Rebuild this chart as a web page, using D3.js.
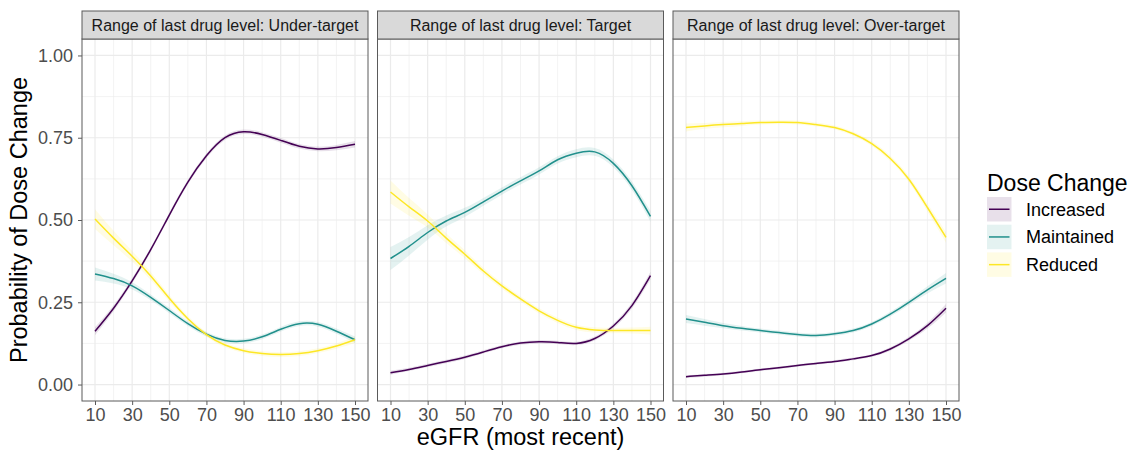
<!DOCTYPE html>
<html>
<head>
<meta charset="utf-8">
<script src="https://cdn.jsdelivr.net/npm/d3@7"></script>
<style>
  body { margin: 0; background: #fff; }
  svg { font-family: "Liberation Sans", Arial, sans-serif; }
</style>
</head>
<body>
<svg id="chart"></svg>
<script>
// Predicted probability of dose change by eGFR, faceted by last drug level

const eGFR = [10, 20, 30, 40, 50, 60, 70, 80, 90, 100, 110, 120, 130, 140, 150];
const xTicks = [10, 30, 50, 70, 90, 110, 130, 150];
const yTicks = [0, 0.25, 0.5, 0.75, 1];

const panelLabels = ["Under-target", "Target", "Over-target"];
const doseChanges = ["Increased", "Maintained", "Reduced"];
const doseColors = ["#440154", "#21908C", "#FDE725"];

// fitted probabilities, one array per panel and series
const underIncreased  = [0.162, 0.232, 0.315, 0.41, 0.515, 0.615, 0.695, 0.75, 0.768, 0.76, 0.742, 0.724, 0.716, 0.72, 0.73];
const underMaintained = [0.336, 0.322, 0.3, 0.265, 0.225, 0.185, 0.153, 0.134, 0.132, 0.145, 0.168, 0.185, 0.183, 0.162, 0.136];
const underReduced    = [0.503, 0.445, 0.39, 0.33, 0.262, 0.2, 0.152, 0.12, 0.103, 0.094, 0.091, 0.094, 0.103, 0.117, 0.136];

const targetIncreased  = [0.036, 0.046, 0.058, 0.07, 0.083, 0.099, 0.115, 0.126, 0.13, 0.128, 0.125, 0.14, 0.178, 0.24, 0.331];
const targetMaintained = [0.383, 0.42, 0.462, 0.497, 0.523, 0.555, 0.588, 0.619, 0.649, 0.683, 0.703, 0.707, 0.672, 0.604, 0.511];
const targetReduced    = [0.585, 0.54, 0.497, 0.445, 0.396, 0.345, 0.3, 0.26, 0.224, 0.195, 0.174, 0.166, 0.164, 0.164, 0.164];

const overIncreased  = [0.024, 0.028, 0.032, 0.038, 0.045, 0.051, 0.058, 0.064, 0.07, 0.078, 0.088, 0.108, 0.139, 0.179, 0.232];
const overMaintained = [0.199, 0.189, 0.179, 0.171, 0.164, 0.158, 0.152, 0.149, 0.154, 0.164, 0.184, 0.214, 0.25, 0.288, 0.323];
const overReduced    = [0.781, 0.786, 0.79, 0.793, 0.796, 0.797, 0.796, 0.79, 0.781, 0.762, 0.732, 0.687, 0.624, 0.538, 0.447];

// half-width of the confidence band
const underIncreasedSE  = [0.012, 0.009, 0.008, 0.007, 0.007, 0.007, 0.007, 0.007, 0.007, 0.007, 0.007, 0.007, 0.007, 0.008, 0.01];
const underMaintainedSE = [0.02, 0.015, 0.011, 0.009, 0.008, 0.007, 0.007, 0.007, 0.007, 0.007, 0.007, 0.007, 0.007, 0.008, 0.01];
const underReducedSE    = [0.03, 0.022, 0.016, 0.012, 0.01, 0.008, 0.007, 0.007, 0.007, 0.007, 0.007, 0.007, 0.007, 0.008, 0.01];
const targetIncreasedSE  = [0.006, 0.005, 0.005, 0.005, 0.005, 0.005, 0.005, 0.005, 0.005, 0.005, 0.005, 0.006, 0.007, 0.009, 0.012];
const targetMaintainedSE = [0.035, 0.028, 0.022, 0.017, 0.014, 0.012, 0.011, 0.011, 0.011, 0.011, 0.012, 0.012, 0.012, 0.013, 0.016];
const targetReducedSE    = [0.035, 0.027, 0.02, 0.015, 0.012, 0.01, 0.009, 0.008, 0.008, 0.008, 0.008, 0.008, 0.008, 0.009, 0.012];
const overIncreasedSE  = [0.004, 0.004, 0.004, 0.004, 0.004, 0.004, 0.004, 0.004, 0.004, 0.004, 0.004, 0.005, 0.006, 0.009, 0.013];
const overMaintainedSE = [0.012, 0.01, 0.008, 0.007, 0.006, 0.006, 0.006, 0.006, 0.006, 0.006, 0.006, 0.007, 0.008, 0.011, 0.016];
const overReducedSE    = [0.012, 0.009, 0.008, 0.007, 0.006, 0.006, 0.006, 0.006, 0.006, 0.006, 0.007, 0.008, 0.009, 0.012, 0.016];

const panelSeries = [
    [underIncreased, underMaintained, underReduced],
    [targetIncreased, targetMaintained, targetReduced],
    [overIncreased, overMaintained, overReduced]
];
const panelBands = [
    [underIncreasedSE, underMaintainedSE, underReducedSE],
    [targetIncreasedSE, targetMaintainedSE, targetReducedSE],
    [overIncreasedSE, overMaintainedSE, overReducedSE]
];

const svgWidth = 1132;
const svgHeight = 450;

const svg = d3.select("#chart")
    .attr("width", svgWidth)
    .attr("height", svgHeight);

const stripTop = 11;
const panelTop = 39;
const panelBottom = 401;
const panelLefts = [82, 377.5, 673];
const panelWidth = 286;

const yScale = d3.scaleLinear().domain([-0.05, 1.05]).range([panelBottom, panelTop]);
const yMinor = [0.125, 0.375, 0.625, 0.875];
const xMinor = [20, 40, 60, 80, 100, 120, 140];

const borderColor = "#5a5a5a";
const gridColor = "#EBEBEB";

panelLabels.forEach((label, p) => {
    const left = panelLefts[p];
    const xScale = d3.scaleLinear().domain([3, 157]).range([left, left + panelWidth]);
    const g = svg.append("g");

    // grid
    g.selectAll(".ymin").data(yMinor).join("line")
        .attr("x1", left).attr("x2", left + panelWidth)
        .attr("y1", d => yScale(d)).attr("y2", d => yScale(d))
        .attr("stroke", gridColor).attr("stroke-width", 0.6);
    g.selectAll(".xmin").data(xMinor).join("line")
        .attr("y1", panelTop).attr("y2", panelBottom)
        .attr("x1", d => xScale(d)).attr("x2", d => xScale(d))
        .attr("stroke", gridColor).attr("stroke-width", 0.6);
    g.selectAll(".ymaj").data(yTicks).join("line")
        .attr("x1", left).attr("x2", left + panelWidth)
        .attr("y1", d => yScale(d)).attr("y2", d => yScale(d))
        .attr("stroke", gridColor).attr("stroke-width", 1.2);
    g.selectAll(".xmaj").data(xTicks).join("line")
        .attr("y1", panelTop).attr("y2", panelBottom)
        .attr("x1", d => xScale(d)).attr("x2", d => xScale(d))
        .attr("stroke", gridColor).attr("stroke-width", 1.2);

    // ribbons then lines
    const area = d3.area()
        .x((d, i) => xScale(eGFR[i]))
        .y0(d => yScale(d[0] - d[1]))
        .y1(d => yScale(d[0] + d[1]))
        .curve(d3.curveNatural);
    const line = d3.line()
        .x((d, i) => xScale(eGFR[i]))
        .y(d => yScale(d))
        .curve(d3.curveNatural);

    panelSeries[p].forEach((values, s) => {
        const band = values.map((v, i) => [v, panelBands[p][s][i]]);
        g.append("path")
            .datum(band)
            .attr("fill", doseColors[s])
            .attr("fill-opacity", 0.12)
            .attr("d", area);
    });
    panelSeries[p].forEach((values, s) => {
        g.append("path")
            .datum(values)
            .attr("fill", "none")
            .attr("stroke", doseColors[s])
            .attr("stroke-width", 1.5)
            .attr("d", line);
    });

    // border
    g.append("rect")
        .attr("x", left).attr("y", panelTop)
        .attr("width", panelWidth).attr("height", panelBottom - panelTop)
        .attr("fill", "none").attr("stroke", borderColor).attr("stroke-width", 1);

    // strip
    g.append("rect")
        .attr("x", left).attr("y", stripTop)
        .attr("width", panelWidth).attr("height", panelTop - stripTop)
        .attr("fill", "#D9D9D9").attr("stroke", borderColor).attr("stroke-width", 1);
    g.append("text")
        .attr("x", left + panelWidth / 2)
        .attr("y", (stripTop + panelTop) / 2)
        .attr("dy", "0.36em")
        .attr("text-anchor", "middle")
        .attr("font-size", "16px")
        .attr("fill", "#1A1A1A")
        .text("Range of last drug level: " + label);

    // x axis
    const xAxis = g.append("g")
        .attr("transform", `translate(0, ${panelBottom})`)
        .call(d3.axisBottom(xScale).tickValues(xTicks).tickSize(4).tickPadding(3));
    xAxis.select(".domain").remove();
    xAxis.selectAll(".tick line").attr("stroke", borderColor);
    xAxis.selectAll(".tick text")
        .attr("font-size", "18px")
        .attr("font-family", "Liberation Sans, Arial, sans-serif")
        .attr("fill", "#4D4D4D");

    // y axis only on the first panel
    if (p === 0) {
        const yAxis = g.append("g")
            .attr("transform", `translate(${left}, 0)`)
            .call(d3.axisLeft(yScale).tickValues(yTicks).tickFormat(d3.format(".2f")).tickSize(4).tickPadding(5));
        yAxis.select(".domain").remove();
        yAxis.selectAll(".tick line").attr("stroke", borderColor);
        yAxis.selectAll(".tick text")
            .attr("font-size", "18px")
            .attr("font-family", "Liberation Sans, Arial, sans-serif")
            .attr("fill", "#4D4D4D");
    }
});

// axis titles
svg.append("text")
    .attr("transform", `translate(19, ${(panelTop + panelBottom) / 2}) rotate(-90)`)
    .attr("text-anchor", "middle")
    .attr("dy", "0.36em")
    .attr("font-size", "23.5px")
    .text("Probability of Dose Change");

svg.append("text")
    .attr("x", (panelLefts[0] + panelLefts[2] + panelWidth) / 2)
    .attr("y", 445)
    .attr("text-anchor", "middle")
    .attr("font-size", "23.5px")
    .text("eGFR (most recent)");

// legend
const legend = svg.append("g").attr("transform", "translate(987, 0)");
legend.append("text")
    .attr("x", 0).attr("y", 191)
    .attr("font-size", "23px")
    .text("Dose Change");

const keySize = 24.5;
const keyStep = 27.7;
const keys = legend.selectAll(".key").data(doseChanges).join("g")
    .attr("transform", (d, i) => `translate(0, ${197 + i * keyStep})`);
keys.append("rect")
    .attr("width", keySize).attr("height", keySize)
    .attr("fill", (d, i) => doseColors[i])
    .attr("fill-opacity", 0.12);
keys.append("line")
    .attr("x1", 2).attr("x2", keySize - 2)
    .attr("y1", keySize / 2).attr("y2", keySize / 2)
    .attr("stroke", (d, i) => doseColors[i])
    .attr("stroke-width", 1.5);
keys.append("text")
    .attr("x", 39).attr("y", keySize / 2)
    .attr("dy", "0.36em")
    .attr("font-size", "18px")
    .text(d => d);
</script>
</body>
</html>
